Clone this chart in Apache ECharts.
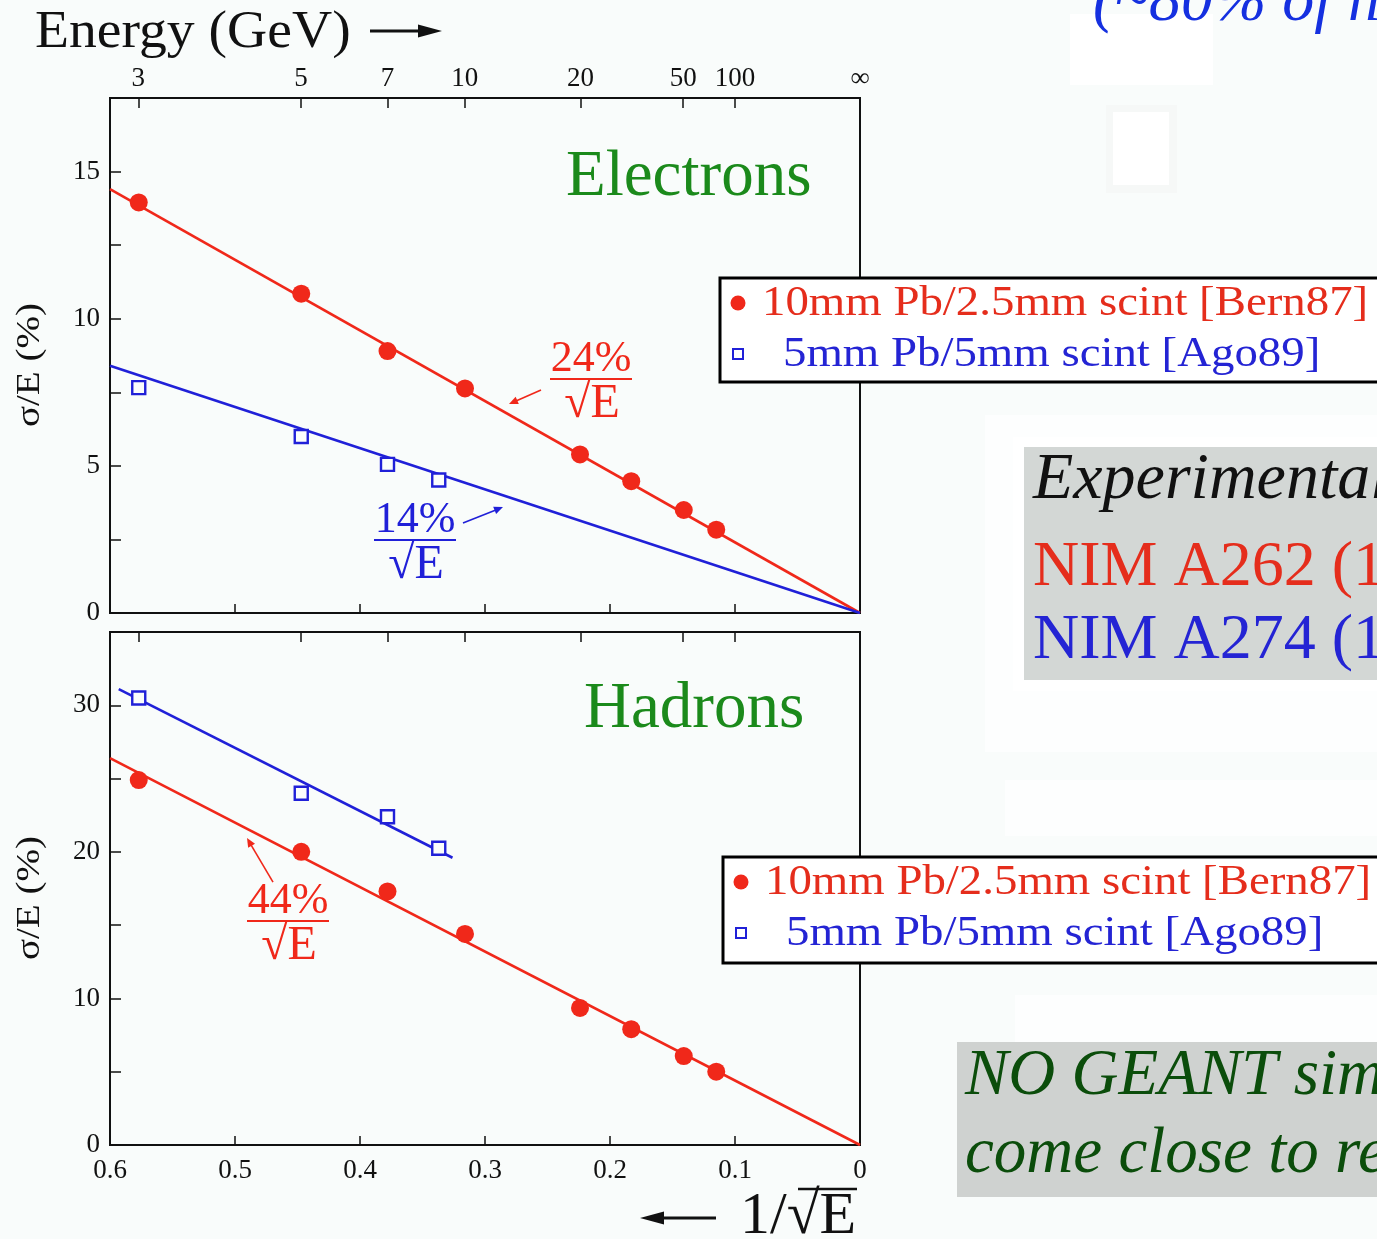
<!DOCTYPE html>
<html>
<head>
<meta charset="utf-8">
<script src="https://cdn.jsdelivr.net/npm/echarts@6/dist/echarts.min.js"></script>
<style>
  html, body { margin: 0; padding: 0; background: #f9fcfb; }
  #chart { width: 1377px; height: 1239px; }
</style>
</head>
<body>
<div id="chart"></div>
<script>
// Measured resolutions, plotted against 1/sqrt(E)
const invSqrtE_pb25 = [0.577, 0.447, 0.378, 0.316, 0.224, 0.183, 0.141, 0.115];
const invSqrtE_pb5 = [0.577, 0.447, 0.378, 0.337];

const sigmaElectronPb25 = [13.95, 10.85, 8.9, 7.63, 5.39, 4.48, 3.5, 2.83];
const sigmaElectronPb5 = [7.66, 6.0, 5.05, 4.52];
const sigmaHadronPb25 = [24.9, 20.0, 17.3, 14.4, 9.35, 7.9, 6.07, 5.0];
const sigmaHadronPb5 = [30.5, 24.0, 22.4, 20.25];

// Stochastic terms of the fits (%·sqrt(GeV))
const stochElectronPb25 = 24;
const stochElectronPb5 = 14;
const stochHadronPb25 = 44;
// 5mm Pb hadron fit segment
const fitHadronPb5X = [0.593, 0.326];
const fitHadronPb5Y = [31.1, 19.6];

// Energy scale on the upper axis
const energyTicks = [3, 5, 7, 10, 20, 50, 100];
const energyLabels = ['3', '5', '7', '10', '20', '50', '100', '∞'];

const SERIF = '"Liberation Serif", "DejaVu Serif", serif';
const RED = '#f0281a';
const BLUE = '#2020d8';
const RED_TXT = '#e52d1c';
const BLUE_TXT = '#2424d4';
const GREEN = '#1b8a1b';
const INK = '#111';

const energyTickX = energyTicks.map(e => 1 / Math.sqrt(e));
const energyLabelX = energyTickX.concat([0]);

function energyFormatter(v) {
  let best = 0, bestD = Infinity;
  energyLabelX.forEach((x, i) => { const d = Math.abs(x - v); if (d < bestD) { bestD = d; best = i; } });
  return energyLabels[best];
}

const pts = (xs, ys) => xs.map((x, i) => [x, ys[i]]);
const fitLine = (k) => [[0.6, k * 0.6], [0, 0]];

const tickLine = { color: INK, width: 1.5 };
const axisLine = { show: true, onZero: false, lineStyle: { color: INK, width: 2 } };
const labelFont = { fontFamily: SERIF, fontSize: 27, color: INK };

function xAxisBase(grid, pos) {
  return {
    gridIndex: grid, type: 'value', position: pos, min: 0, max: 0.6, inverse: true,
    axisLine: axisLine, splitLine: { show: false }
  };
}

const chart = echarts.init(document.getElementById('chart'), null, { renderer: 'canvas' });

const circleStyle = { color: RED, opacity: 1 };
const squareStyle = { color: '#fbfdfc', borderColor: BLUE, borderWidth: 2.4, opacity: 1 };

const option = {
  animation: false,
  backgroundColor: '#f9fcfb',
  grid: [
    { left: 110, top: 98, width: 750, height: 515, show: true, borderColor: INK, borderWidth: 2, backgroundColor: 'transparent' },
    { left: 110, top: 632, width: 750, height: 513, show: true, borderColor: INK, borderWidth: 2, backgroundColor: 'transparent' }
  ],
  xAxis: [
    Object.assign(xAxisBase(0, 'bottom'), {
      interval: 0.1,
      axisTick: { inside: true, length: 9, lineStyle: tickLine },
      axisLabel: { show: false }
    }),
    Object.assign(xAxisBase(0, 'top'), {
      axisTick: { inside: true, length: 10, lineStyle: tickLine, customValues: energyTickX },
      axisLabel: Object.assign({ customValues: energyLabelX, formatter: energyFormatter, margin: 6 }, labelFont)
    }),
    Object.assign(xAxisBase(1, 'bottom'), {
      interval: 0.1,
      axisTick: { inside: true, length: 9, lineStyle: tickLine },
      axisLabel: Object.assign({
        margin: 12, showMinLabel: true, showMaxLabel: true,
        formatter: v => (Math.abs(v) < 1e-9 ? '0' : v.toFixed(1))
      }, labelFont)
    }),
    Object.assign(xAxisBase(1, 'top'), {
      axisTick: { inside: true, length: 10, lineStyle: tickLine, customValues: energyTickX },
      axisLabel: { show: false }
    })
  ],
  yAxis: [
    {
      gridIndex: 0, type: 'value', position: 'left', min: 0, max: 17.5, interval: 2.5,
      axisLine: axisLine, splitLine: { show: false },
      axisTick: { inside: true, length: 11, lineStyle: tickLine },
      axisLabel: Object.assign({ margin: 10, formatter: v => (Math.abs(v % 5) < 1e-9 && v <= 15 ? String(v) : '') }, labelFont)
    },
    {
      gridIndex: 1, type: 'value', position: 'left', min: 0, max: 35, interval: 5,
      axisLine: axisLine, splitLine: { show: false },
      axisTick: { inside: true, length: 11, lineStyle: tickLine },
      axisLabel: Object.assign({ margin: 10, formatter: v => (Math.abs(v % 10) < 1e-9 && v <= 30 ? String(v) : '') }, labelFont)
    }
  ],
  series: [
    { name: 'e fit 24%', type: 'line', xAxisIndex: 0, yAxisIndex: 0, data: fitLine(stochElectronPb25), showSymbol: false, lineStyle: { color: RED, width: 2.6 }, z: 2, silent: true },
    { name: 'e fit 14%', type: 'line', xAxisIndex: 0, yAxisIndex: 0, data: fitLine(stochElectronPb5), showSymbol: false, lineStyle: { color: BLUE, width: 2.6 }, z: 2, silent: true },
    { name: 'e Pb/2.5mm', type: 'scatter', xAxisIndex: 0, yAxisIndex: 0, data: pts(invSqrtE_pb25, sigmaElectronPb25), symbol: 'circle', symbolSize: 18, itemStyle: circleStyle, z: 4 },
    { name: 'e Pb/5mm', type: 'scatter', xAxisIndex: 0, yAxisIndex: 0, data: pts(invSqrtE_pb5, sigmaElectronPb5), symbol: 'rect', symbolSize: 13, itemStyle: squareStyle, z: 4 },

    { name: 'h fit 44%', type: 'line', xAxisIndex: 2, yAxisIndex: 1, data: fitLine(stochHadronPb25), showSymbol: false, lineStyle: { color: RED, width: 2.6 }, z: 2, silent: true },
    { name: 'h fit 5mm', type: 'line', xAxisIndex: 2, yAxisIndex: 1, data: pts(fitHadronPb5X, fitHadronPb5Y), showSymbol: false, lineStyle: { color: BLUE, width: 2.6 }, z: 2, silent: true },
    { name: 'h Pb/2.5mm', type: 'scatter', xAxisIndex: 2, yAxisIndex: 1, data: pts(invSqrtE_pb25, sigmaHadronPb25), symbol: 'circle', symbolSize: 18, itemStyle: circleStyle, z: 4 },
    { name: 'h Pb/5mm', type: 'scatter', xAxisIndex: 2, yAxisIndex: 1, data: pts(invSqrtE_pb5, sigmaHadronPb5), symbol: 'rect', symbolSize: 13, itemStyle: squareStyle, z: 4 }
  ]
};

chart.setOption(option);

// ---------- overlay drawing helpers ----------
function text(x, y, str, size, color, extra) {
  const el = {
    type: 'text', x: x, y: y, z: 60,
    style: { text: str, fontFamily: SERIF, fontSize: size, fill: color, align: 'left', verticalAlign: 'middle' }
  };
  if (extra) {
    if (extra.style) Object.assign(el.style, extra.style);
    ['scaleX', 'scaleY', 'rotation', 'z'].forEach(k => { if (extra[k] !== undefined) el[k] = extra[k]; });
  }
  return el;
}
function line(x1, y1, x2, y2, color, w, z) {
  return { type: 'line', z: z || 60, shape: { x1, y1, x2, y2 }, style: { stroke: color, lineWidth: w } };
}
function rect(x, y, w, h, fill, stroke, lw, z) {
  return { type: 'rect', z: z || 55, shape: { x, y, width: w, height: h }, style: { fill: fill, stroke: stroke || null, lineWidth: lw || 0 } };
}
function arrow(x1, y1, x2, y2, color, w, hl, hw) {
  const a = Math.atan2(y2 - y1, x2 - x1);
  const bx = x2 - hl * Math.cos(a), by = y2 - hl * Math.sin(a);
  const px = -Math.sin(a) * hw / 2, py = Math.cos(a) * hw / 2;
  return [
    line(x1, y1, bx + 2 * Math.cos(a), by + 2 * Math.sin(a), color, w),
    { type: 'polygon', z: 60, shape: { points: [[x2, y2], [bx + px, by + py], [bx - px, by - py]] }, style: { fill: color } }
  ];
}
function fraction(cx, cy, num, color) {
  return [
    text(cx, cy - 20, num, 44, color, { style: { align: 'center' } }),
    line(cx - 41, cy, cx + 41, cy, color, 2),
    text(cx + 1, cy + 25, '√E', 48, color, { style: { align: 'center' } })
  ];
}
const toPx = (grid, p) => chart.convertToPixel(grid === 0 ? { xAxisIndex: 0, yAxisIndex: 0 } : { xAxisIndex: 2, yAxisIndex: 1 }, p);

// Fit annotations, anchored in data space
const fracE24 = toPx(0, [0.2152, 7.95]);
const fracE14 = toPx(0, [0.356, 2.48]);
const fracH44 = toPx(1, [0.4576, 15.28]);
const arrE24 = [toPx(0, [0.2552, 7.58]), toPx(0, [0.2808, 7.10])];
const arrE14 = [toPx(0, [0.3176, 3.06]), toPx(0, [0.2856, 3.60])];
const arrH44 = [toPx(1, [0.4696, 17.94]), toPx(1, [0.4904, 20.94])];

function legendBox(x, y, w, h) {
  return [
    rect(x, y, w, h, '#ffffff', '#000', 3, 70),
    { type: 'circle', z: 72, shape: { cx: x + 18, cy: y + 25, r: 7.5 }, style: { fill: RED } },
    text(x + 42, y + 26, '10mm Pb/2.5mm scint [Bern87]', 42, RED_TXT, { scaleX: 1.115, z: 72 }),
    { type: 'rect', z: 72, shape: { x: x + 13, y: y + 71, width: 10, height: 10 }, style: { fill: 'none', stroke: BLUE, lineWidth: 2 } },
    text(x + 63, y + 77, '5mm Pb/5mm scint [Ago89]', 42, BLUE_TXT, { scaleX: 1.115, z: 72 })
  ];
}

const graphics = [].concat(
  // faint paste-up patches on the right side
  rect(1070, 14, 143, 71, '#ffffff', null, 0, 1),
  rect(1106, 105, 71, 88, '#f6f8f7', null, 0, 1),
  rect(1113, 112, 56, 73, '#ffffff', null, 0, 1),
  rect(985, 415, 400, 337, '#fdfefe', null, 0, 1),
  rect(1013, 437, 400, 254, '#ffffff', null, 0, 1),
  rect(1005, 780, 380, 56, '#fdfefe', null, 0, 1),
  rect(1015, 995, 370, 48, '#fdfefe', null, 0, 1),

  // axis titles
  text(35, 33, 'Energy (GeV)', 52, INK, { scaleX: 1.07 }),
  arrow(370, 31, 442, 31, INK, 3, 24, 13),
  arrow(716, 1218, 640, 1218, INK, 3, 24, 13),
  text(740, 1217, '1/√E', 60, INK),
  line(798, 1189, 857, 1189, INK, 2.5),
  text(30, 365, 'σ/E (%)', 34, INK, { rotation: Math.PI / 2, scaleX: 1.15, style: { align: 'center' } }),
  text(30, 898, 'σ/E (%)', 34, INK, { rotation: Math.PI / 2, scaleX: 1.15, style: { align: 'center' } }),

  // panel titles
  text(566, 178, 'Electrons', 65, GREEN),
  text(584, 710, 'Hadrons', 65, GREEN),

  // fit annotations
  fraction(fracE24[0], fracE24[1], '24%', RED),
  fraction(fracE14[0], fracE14[1], '14%', BLUE),
  fraction(fracH44[0], fracH44[1], '44%', RED),
  arrow(arrE24[0][0], arrE24[0][1], arrE24[1][0], arrE24[1][1], RED, 1.6, 9, 8),
  arrow(arrE14[0][0], arrE14[0][1], arrE14[1][0], arrE14[1][1], BLUE, 1.6, 9, 8),
  arrow(arrH44[0][0], arrH44[0][1], arrH44[1][0], arrH44[1][1], RED, 1.6, 9, 8),

  // legends
  legendBox(720, 278, 700, 104),
  legendBox(723, 857, 700, 106),

  // side notes
  text(1093, 3, '(~80% of h', 64, '#1530e0', { style: { fontStyle: 'italic' } }),
  rect(1024, 447, 400, 233, '#d3d7d5', null, 0, 5),
  text(1033, 481, 'Experimental', 66, INK, { style: { fontStyle: 'italic' } }),
  text(1033, 568, 'NIM A262 (1987)', 64, RED_TXT),
  text(1033, 641, 'NIM A274 (1989)', 64, BLUE_TXT),
  rect(957, 1042, 430, 155, '#cfd2d0', null, 0, 5),
  text(965, 1077, 'NO GEANT sim', 65, '#0b4d0b', { style: { fontStyle: 'italic' } }),
  text(965, 1155, 'come close to rep', 65, '#0b4d0b', { style: { fontStyle: 'italic' } })
);

chart.setOption({ graphic: graphics });
</script>
</body>
</html>
